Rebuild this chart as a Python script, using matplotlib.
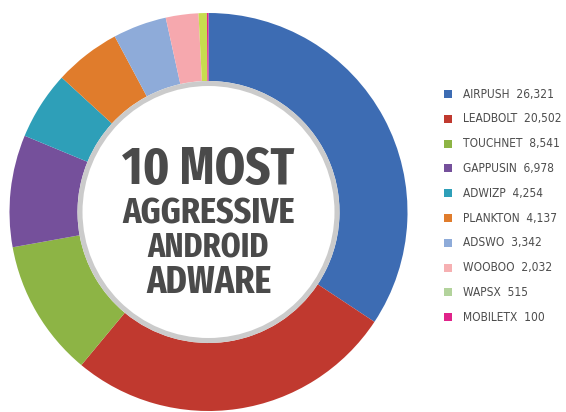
import os
import matplotlib
matplotlib.use("Agg")
import matplotlib.pyplot as plt
from matplotlib import font_manager as fm
from matplotlib.patches import Circle, Rectangle

# Adware families and detection counts
names = ["AIRPUSH", "LEADBOLT", "TOUCHNET", "GAPPUSIN", "ADWIZP",
         "PLANKTON", "ADSWO", "WOOBOO", "WAPSX", "MOBILETX"]
counts = [26321, 20502, 8541, 6978, 4254, 4137, 3342, 2032, 515, 100]
count_labels = ["26,321", "20,502", "8,541", "6,978", "4,254",
                "4,137", "3,342", "2,032", "515", "100"]

ring_colors = ["#3d6cb3", "#c0392f", "#8db445", "#75509b", "#2e9fb8",
               "#e07c2c", "#8eabd9", "#f6a8ae", "#c7dc4e", "#e0238a"]
key_colors = ["#3d6cb3", "#c0392f", "#8db445", "#75509b", "#2e9fb8",
              "#e07c2c", "#8eabd9", "#f6b0b2", "#b3d39c", "#e0238a"]

title_lines = ["10 MOST", "AGGRESSIVE", "ANDROID", "ADWARE"]


def narrow_font(bold, prefer_extra=False):
    """Return a FontProperties for a condensed sans face if one is installed."""
    ranked = []
    for f in fm.fontManager.ttflist:
        tag = (f.name + " " + os.path.basename(f.fname)).lower().replace(" ", "")
        if f.style != "normal":
            continue
        w = f.weight if isinstance(f.weight, int) else (700 if f.weight == "bold" else 400)
        if (w >= 600) != bold:
            continue
        if "semicondensed" in tag:
            score = 4
        elif "extracondensed" in tag or "ultracondensed" in tag:
            score = 1 if prefer_extra else 2
        elif "narrow" in tag or "condensed" in tag or f.stretch == "condensed":
            score = 2 if prefer_extra else 1
        else:
            continue
        if abs(w - (700 if bold else 400)) > 150:
            score += 3
        ranked.append((score, f.fname))
    if ranked:
        ranked.sort()
        return fm.FontProperties(fname=ranked[0][1])
    return fm.FontProperties(family="Liberation Sans",
                             weight="bold" if bold else "normal")


bold_fp = narrow_font(True, prefer_extra=True)
reg_fp = narrow_font(False)

W, H = 566, 412
fig = plt.figure(figsize=(W / 100, H / 100), dpi=100)
ax = fig.add_axes([0, 0, 1, 1])

cx, cy = 208.5, H - 212
r_out, r_in = 199, 131

ax.pie(counts, colors=ring_colors, startangle=90, counterclock=False,
       radius=r_out, center=(cx, cy), frame=True,
       wedgeprops=dict(width=r_out - r_in, linewidth=0))
ax.set_xlim(0, W)
ax.set_ylim(0, H)
ax.set_aspect("equal")
ax.axis("off")

# white centre with grey rim
ax.add_patch(Circle((cx, cy), r_in - 2.5, facecolor="white",
                    edgecolor="#cbcbcb", linewidth=3.6, zorder=3))

renderer = fig.canvas.get_renderer()


def fit_text(x, y, s, fp, width_px, max_size, **kw):
    t = ax.text(x, y, s, fontproperties=fp, fontsize=20, **kw)
    w = t.get_window_extent(renderer).width
    t.set_fontsize(min(max_size, 20 * width_px / w))
    return t


title_widths = [173, 172, 121, 138]
title_max = [38, 28, 28, 28]
title_base = [184, 223, 257, 293]
for line, wpx, mx, y in zip(title_lines, title_widths, title_max, title_base):
    fit_text(cx, H - y, line, bold_fp, wpx, mx, ha="center", va="baseline",
             color="#4a4a4a", zorder=4)

# key on the right
y0, step = 94, 24.8
probe = ax.text(0, 0, f"{names[0]}  {count_labels[0]}", fontproperties=reg_fp,
                fontsize=20)
key_size = min(10.5, 20 * 91 / probe.get_window_extent(renderer).width)
probe.remove()
for i, (n, c, col) in enumerate(zip(names, count_labels, key_colors)):
    y = H - (y0 + i * step)
    ax.add_patch(Rectangle((444, y - 4), 8, 8, facecolor=col,
                           edgecolor="none", zorder=4))
    ax.text(463, y, f"{n}  {c}", ha="left", va="center", fontsize=key_size,
            fontproperties=reg_fp, color="#4d4d4d", zorder=4)

fig.savefig("out.png", dpi=100)
